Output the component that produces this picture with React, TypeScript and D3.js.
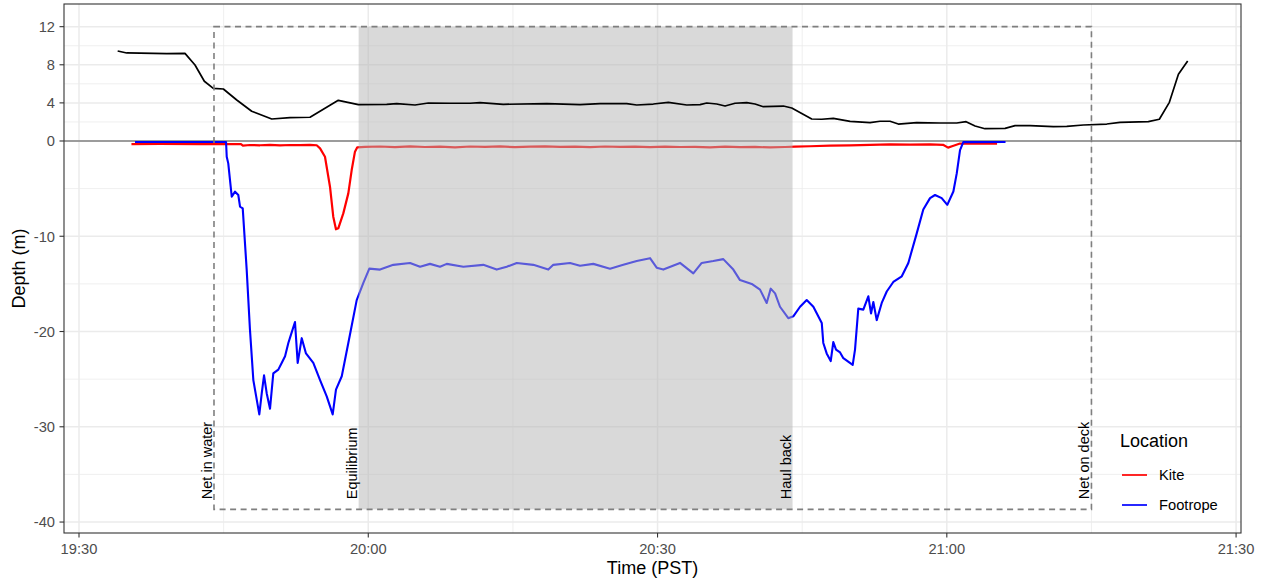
import React from "react";
import * as d3 from "d3";

// minutes after 19:30 (PST)
const blackTime = [4.01, 4.95, 9.1, 10.99, 12.03, 13.0, 13.93, 14.97, 16.36, 17.91, 19.99, 21.88, 23.96, 26.89, 28.97, 31.91, 32.95, 34.85, 36.23, 38.48, 40.55, 41.59, 44.0, 48.51, 51.96, 54.04, 56.8, 57.84, 59.56, 61.12, 63.03, 64.41, 65.1, 66.14, 67.0, 68.04, 69.25, 70.11, 70.97, 73.05, 73.92, 75.99, 77.03, 78.23, 79.97, 82.04, 83.07, 84.11, 84.97, 86.88, 89.3, 91.03, 92.0, 92.93, 93.96, 96.04, 97.08, 98.63, 101.05, 102.44, 104.16, 106.59, 107.96, 110.9, 112.04, 113.08, 114.02, 114.98];
const blackDepth = [9.45, 9.24, 9.17, 9.2, 7.98, 6.27, 5.53, 5.46, 4.3, 3.12, 2.31, 2.45, 2.49, 4.27, 3.81, 3.85, 3.92, 3.78, 3.99, 3.96, 3.96, 4.03, 3.85, 3.92, 3.82, 3.92, 3.92, 3.78, 3.88, 4.06, 3.78, 3.82, 3.99, 3.88, 3.67, 3.96, 4.03, 3.88, 3.6, 3.67, 3.46, 2.31, 2.28, 2.38, 2.05, 1.93, 2.07, 2.07, 1.78, 1.92, 1.89, 1.89, 2.03, 1.57, 1.29, 1.33, 1.61, 1.61, 1.5, 1.54, 1.68, 1.78, 1.96, 2.03, 2.28, 4.06, 7.0, 8.4];

const kiteTime = [5.44, 8.4, 12.55, 16.8, 17.0, 17.73, 18.77, 19.81, 20.85, 21.88, 22.92, 23.96, 24.65, 25.0, 25.51, 26.03, 26.37, 26.65, 26.89, 27.41, 27.93, 28.28, 28.62, 28.86, 29.66, 31.22, 32.77, 34.33, 35.88, 37.44, 39.0, 40.55, 42.11, 43.66, 45.22, 46.77, 48.33, 49.89, 51.44, 53.0, 54.55, 56.11, 57.66, 59.22, 60.78, 62.33, 63.89, 65.44, 67.0, 68.55, 70.11, 71.67, 73.22, 74.26, 75.81, 77.89, 79.96, 82.04, 84.11, 86.19, 88.26, 89.61, 90.13, 90.54, 91.37, 93.45, 95.21];
const kiteDepth = [-0.32, -0.31, -0.32, -0.32, -0.48, -0.42, -0.45, -0.4, -0.46, -0.42, -0.44, -0.4, -0.45, -0.77, -1.65, -4.8, -7.95, -9.27, -9.17, -7.6, -5.5, -3.05, -1.12, -0.66, -0.62, -0.58, -0.64, -0.57, -0.63, -0.6, -0.66, -0.58, -0.62, -0.57, -0.64, -0.6, -0.56, -0.62, -0.59, -0.65, -0.58, -0.62, -0.6, -0.65, -0.59, -0.63, -0.61, -0.66, -0.6, -0.65, -0.62, -0.68, -0.63, -0.6, -0.55, -0.48, -0.45, -0.4, -0.36, -0.38, -0.35, -0.4, -0.7, -0.55, -0.27, -0.28, -0.28];

const footTime = [5.81, 15.25, 15.32, 15.48, 15.66, 15.84, 16.18, 16.52, 16.7, 16.98, 17.39, 17.73, 18.08, 18.7, 18.95, 19.19, 19.47, 19.81, 20.15, 20.67, 21.02, 21.37, 21.71, 21.96, 22.4, 22.68, 23.1, 23.54, 24.3, 25.0, 25.69, 26.31, 26.65, 27.25, 27.93, 28.8, 29.49, 30.11, 31.22, 32.6, 34.33, 35.37, 36.4, 37.44, 38.14, 39.86, 41.93, 43.32, 44.36, 45.4, 47.12, 48.67, 49.19, 50.92, 51.96, 53.34, 55.07, 56.45, 57.84, 59.22, 59.91, 60.6, 62.33, 63.71, 64.58, 65.78, 66.82, 67.86, 68.55, 69.77, 70.63, 71.32, 71.74, 72.19, 72.7, 73.56, 74.08, 74.78, 75.47, 76.16, 77.03, 77.19, 77.54, 77.96, 78.23, 78.51, 78.93, 79.27, 80.24, 80.48, 80.82, 81.34, 81.86, 82.14, 82.38, 82.73, 83.25, 83.77, 84.45, 85.33, 86.01, 86.88, 87.56, 88.26, 88.78, 89.47, 90.05, 90.68, 91.03, 91.37, 91.71, 96.09];
const footDepth = [-0.1, -0.1, -1.65, -2.35, -4.1, -5.85, -5.32, -5.67, -6.9, -7.07, -13.5, -19.8, -25.1, -28.7, -26.5, -24.6, -26.5, -28.1, -24.4, -24.0, -23.3, -22.6, -21.2, -20.4, -19.0, -23.3, -20.7, -22.3, -23.3, -25.1, -26.8, -28.7, -26.1, -24.7, -21.2, -16.7, -14.9, -13.4, -13.5, -13.0, -12.8, -13.2, -12.9, -13.2, -12.9, -13.2, -13.0, -13.5, -13.2, -12.8, -13.0, -13.5, -13.0, -12.8, -13.1, -12.9, -13.4, -13.0, -12.6, -12.3, -13.3, -13.5, -12.8, -13.9, -12.8, -12.6, -12.4, -13.5, -14.6, -15.0, -15.6, -17.0, -15.5, -16.0, -17.4, -18.6, -18.4, -17.4, -16.7, -17.4, -19.1, -21.2, -22.3, -23.1, -21.1, -21.9, -22.2, -22.8, -23.5, -21.9, -17.6, -17.7, -16.3, -18.1, -16.9, -18.8, -17.0, -15.8, -14.8, -14.2, -12.8, -9.7, -7.2, -6.0, -5.67, -6.0, -6.7, -5.3, -3.4, -0.95, -0.12, -0.1];

const yBreaks = [12, 8, 4, 0, -10, -20, -30, -40];
const yMinor = [10, 6, 2, -5, -15, -25, -35];
const xBreaks = [0, 30, 60, 90, 120];
const xMinor = [15, 45, 75, 105];

const eventTime = [14, 29, 74, 105];
const eventLabel = ["Net in water", "Equilibrium", "Haul back", "Net on deck"];
const boxTop = 12;
const boxBottom = -38.67;
const labelStart = -37.6;

const seriesNames = ["Kite", "Footrope"];
const seriesColors = ["#ff0000", "#0000ff"];

const base = new Date(2020, 0, 1, 19, 30, 0).getTime();
const toDate = (m: number) => new Date(base + m * 60000);

const FONT = "'Liberation Sans', Arial, Helvetica, sans-serif";

export default function App() {
  const left = 64, right = 1241, top = 4, bottom = 533;
  const x = d3.scaleTime().domain([toDate(-1.556), toDate(120.51)]).range([left, right]);
  const y = d3.scaleLinear().domain([-41.15, 14.38]).range([bottom, top]);
  const fmt = d3.timeFormat("%H:%M");

  const mk = (t: number[], v: number[]) =>
    d3.line<number>().x((_, i) => x(toDate(t[i]))).y((d) => y(d))(v) as string;

  const blackPath = mk(blackTime, blackDepth);
  const kitePath = mk(kiteTime, kiteDepth);
  const footPath = mk(footTime, footDepth);

  return (
    <svg width={1261} height={581} style={{ position: "absolute", left: 0, top: 0, background: "#fff" }} fontFamily={FONT}>
      <rect x={0} y={0} width={1261} height={581} fill="#fff" />
      <defs>
        <clipPath id="panel">
          <rect x={left} y={top} width={right - left} height={bottom - top} />
        </clipPath>
      </defs>
      {/* grid */}
      {yMinor.map((v) => (
        <line key={"ym" + v} x1={left} x2={right} y1={y(v)} y2={y(v)} stroke="#ebebeb" strokeWidth={0.8} />
      ))}
      {xMinor.map((m) => (
        <line key={"xm" + m} x1={x(toDate(m))} x2={x(toDate(m))} y1={top} y2={bottom} stroke="#ebebeb" strokeWidth={0.8} />
      ))}
      {yBreaks.map((v) => (
        <line key={"yM" + v} x1={left} x2={right} y1={y(v)} y2={y(v)} stroke="#ebebeb" strokeWidth={1.5} />
      ))}
      {xBreaks.map((m) => (
        <line key={"xM" + m} x1={x(toDate(m))} x2={x(toDate(m))} y1={top} y2={bottom} stroke="#ebebeb" strokeWidth={1.5} />
      ))}
      <g clipPath="url(#panel)">
        <line x1={left} x2={right} y1={y(0)} y2={y(0)} stroke="#808080" strokeWidth={1.4} />
        <path d={kitePath} fill="none" stroke={seriesColors[0]} strokeWidth={2.2} strokeLinejoin="round" />
        <path d={footPath} fill="none" stroke={seriesColors[1]} strokeWidth={2.1} strokeLinejoin="round" />
        <rect
          x={x(toDate(eventTime[1]))}
          y={y(boxTop)}
          width={x(toDate(eventTime[2])) - x(toDate(eventTime[1]))}
          height={y(boxBottom) - y(boxTop)}
          fill="#b3b3b3"
          fillOpacity={0.5}
        />
        <path d={blackPath} fill="none" stroke="#000" strokeWidth={1.7} strokeLinejoin="round" />
        <rect
          x={x(toDate(eventTime[0]))}
          y={y(boxTop)}
          width={x(toDate(eventTime[3])) - x(toDate(eventTime[0]))}
          height={y(boxBottom) - y(boxTop)}
          fill="none"
          stroke="#7f7f7f"
          strokeWidth={1.6}
          strokeDasharray="6 4.5"
        />
        {eventTime.map((m, i) => (
          <text
            key={"ev" + i}
            transform={`translate(${x(toDate(m)) - 2},${y(labelStart)}) rotate(-90)`}
            fontSize={14.5}
            fill="#000"
          >
            {eventLabel[i]}
          </text>
        ))}
      </g>
      {/* panel border */}
      <rect x={left} y={top} width={right - left} height={bottom - top} fill="none" stroke="#333" strokeWidth={1.1} />
      {/* y axis */}
      {yBreaks.map((v) => (
        <g key={"yt" + v}>
          <line x1={left - 4.5} x2={left} y1={y(v)} y2={y(v)} stroke="#333" strokeWidth={1.1} />
          <text x={left - 9} y={y(v)} dy="0.36em" textAnchor="end" fontSize={14.7} fill="#4d4d4d">
            {String(v)}
          </text>
        </g>
      ))}
      {/* x axis */}
      {xBreaks.map((m) => (
        <g key={"xt" + m}>
          <line x1={x(toDate(m))} x2={x(toDate(m))} y1={bottom} y2={bottom + 4.5} stroke="#333" strokeWidth={1.1} />
          <text x={x(toDate(m))} y={554} textAnchor="middle" fontSize={14.7} fill="#4d4d4d">
            {fmt(toDate(m))}
          </text>
        </g>
      ))}
      <text x={(left + right) / 2} y={574} textAnchor="middle" fontSize={18} fill="#000">
        Time (PST)
      </text>
      <text transform={`translate(25,${(top + bottom) / 2}) rotate(-90)`} textAnchor="middle" fontSize={18} fill="#000">
        Depth (m)
      </text>
      {/* legend */}
      <text x={1120} y={447} fontSize={18} fill="#000">Location</text>
      {seriesNames.map((n, i) => (
        <g key={n}>
          <line x1={1122} x2={1147} y1={475 + i * 30} y2={475 + i * 30} stroke={seriesColors[i]} strokeWidth={1.7} />
          <text x={1159} y={480 + i * 30} fontSize={14.7} fill="#000">{n}</text>
        </g>
      ))}
    </svg>
  );
}
